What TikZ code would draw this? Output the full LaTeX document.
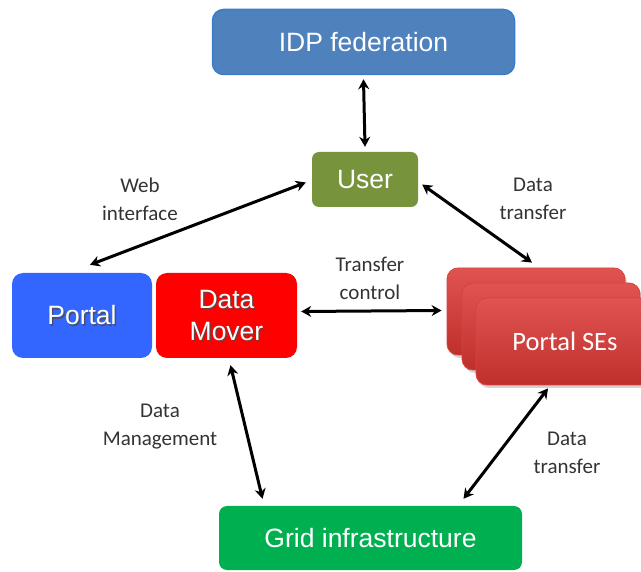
\documentclass[tikz,border=0pt]{standalone}
\usepackage{fontspec}
\setmainfont{Liberation Sans}
\newfontfamily\lblfont{Carlito}
\usetikzlibrary{arrows.meta,calc,shadows}

\definecolor{idpfill}{HTML}{4F81BD}
\definecolor{idpedge}{HTML}{3A7CCB}
\definecolor{userfill}{HTML}{77933C}
\definecolor{portalfill}{HTML}{3366FF}
\definecolor{moverfill}{HTML}{FF0000}
\definecolor{setop}{HTML}{E05350}
\definecolor{sebot}{HTML}{BF302D}
\definecolor{seedge}{HTML}{D8423F}
\definecolor{gridfill}{HTML}{00B050}
\definecolor{lblgray}{HTML}{333333}

\tikzset{
  box/.style={rounded corners=11pt, inner sep=0pt, align=center,
    text=white, font=\fontsize{26.5}{32}\selectfont},
  sebox/.style={box, top color=setop, bottom color=sebot, draw=seedge,
    line width=0.8pt, minimum width=178pt, minimum height=87pt,
    drop shadow={shadow xshift=2pt, shadow yshift=-3pt, opacity=0.35}},
  shadowtxt/.style={align=center, text=black!70, opacity=0.8,
    font=\fontsize{26.5}{32}\selectfont},
  plaintxt/.style={align=center, text=white, font=\fontsize{26.5}{32}\selectfont},
  lbl/.style={align=center, text=lblgray, font=\lblfont\fontsize{21}{28}\selectfont},
  biarrow/.style={line width=3pt, black,
    {Stealth[length=10pt,width=11pt]}-{Stealth[length=10pt,width=11pt]}}
}

\begin{document}
\begin{tikzpicture}[x=1pt, y={(0pt,-1pt)}]
\useasboundingbox (0,0) rectangle (641,572);
\clip (0,0) rectangle (641,572);

% identity provider and user
\node[box, fill=idpfill, draw=idpedge, line width=1.5pt,
  minimum width=302pt, minimum height=65pt] (idp) at (363.5,42) {IDP federation};
\node[box, fill=userfill, rounded corners=7pt,
  minimum width=106pt, minimum height=55pt] (user) at (365,179.5) {User};

% portal and data mover
\node[box, fill=portalfill, minimum width=140pt, minimum height=85pt] (portal) at (82,315.5) {};
\node[box, fill=moverfill, minimum width=141pt, minimum height=85pt] (mover) at (226.5,315.5) {};
\node[shadowtxt] at ($(portal)+(1.5,1.5)$) {Portal};
\node[plaintxt] (portaltxt) at (portal) {Portal};
\node[shadowtxt] at ($(mover)+(1.5,1.5)$) {Data\\Mover};
\node[plaintxt] (movertxt) at (mover) {Data\\Mover};

% stacked storage elements
\node[sebox] (se3) at (536,311.5) {};
\node[sebox] (se2) at (551,326.5) {};
\node[sebox, font=\lblfont\fontsize{26.5}{32}\selectfont] (se1) at (565,341.5) {Portal SEs};

% grid
\node[box, fill=gridfill, rounded corners=8pt,
  minimum width=303pt, minimum height=64pt] (grid) at (370.5,538) {Grid infrastructure};

% connectors
\draw[biarrow] ($(idp.south)+(0,4)$) -- ($(user.north)+(0,-5)$);
\draw[biarrow] ($(user.west)+(-6,3)$) -- ($(portal.north)+(8,-8)$);
\draw[biarrow] ($(user.east)+(4,5)$) -- ($(se3.north)+(-4,-5)$);
\draw[biarrow] ($(mover.east)+(4,-4)$) -- ($(se3.west)+(-5,-1)$);
\draw[biarrow] ($(mover.south)+(4,7)$) -- ($(grid.north)+(-108,-7)$);
\draw[biarrow] ($(se1.south)+(-17,3)$) -- ($(grid.north)+(93,-7)$);

% connector labels
\node[lbl] (lweb) at (140,199) {Web\\interface};
\node[lbl] (luserse) at (533,199) {Data\\transfer};
\node[lbl] (lctrl) at (370,278) {Transfer\\control};
\node[lbl] (lmgmt) at (160,427) {Data\\Management};
\node[lbl] (lsegrid) at (567,453) {Data\\transfer};
\end{tikzpicture}
\end{document}
